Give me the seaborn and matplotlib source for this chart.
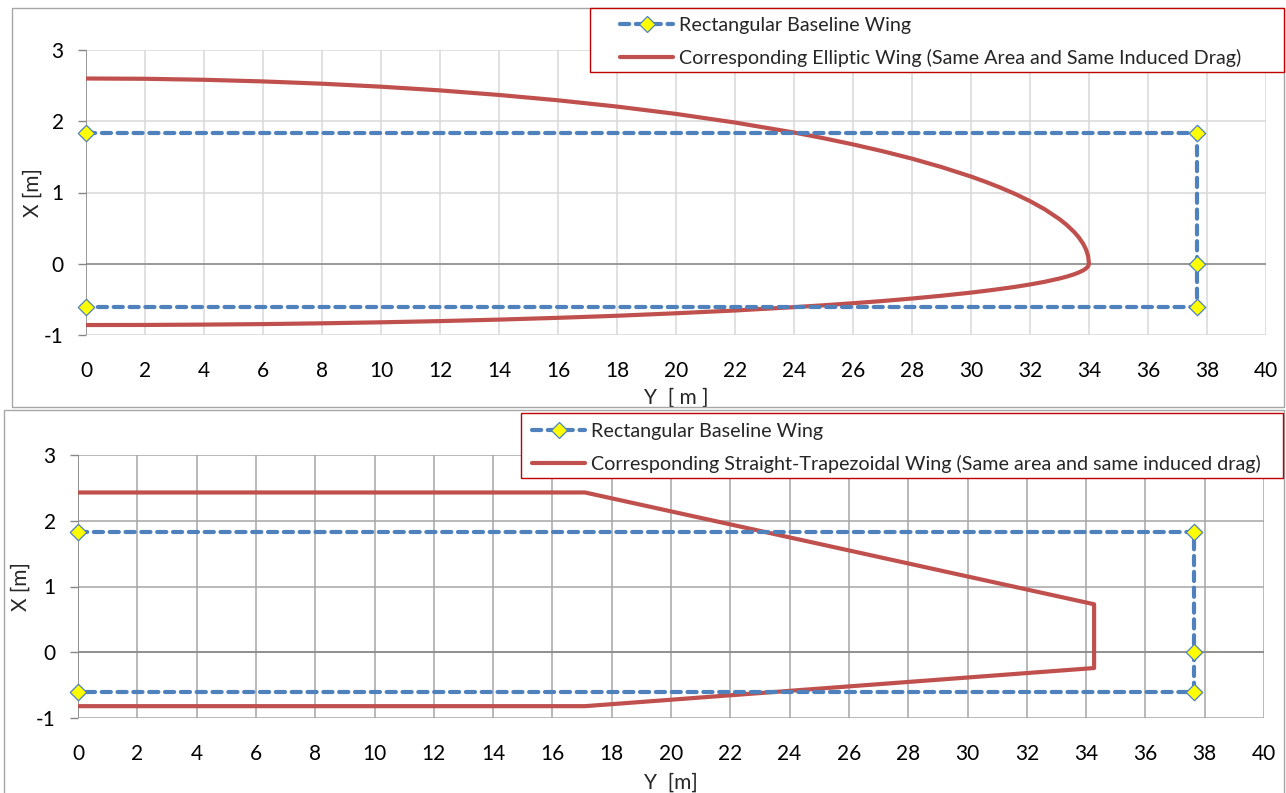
import matplotlib
matplotlib.use("Agg")
import matplotlib.pyplot as plt
import seaborn as sns
from matplotlib.lines import Line2D
from matplotlib.patches import Rectangle

sns.set_theme(style="white")
plt.rcParams['font.family'] = ['Lato', 'DejaVu Sans']
plt.rcParams['axes.unicode_minus'] = False

# ---------------- data ----------------
# Rectangular baseline wing outline (span station Y, chordwise X)
rect_y = [0.0, 37.65, 37.65, 37.65, 0.0]
rect_x = [1.83, 1.83, 0.0, -0.6, -0.6]

# Elliptic wing outline: leading edge out to the tip
ell_le_y = [0, 2, 4, 6, 8, 10, 12, 14, 16, 18, 20, 22, 24, 25, 26, 27, 28, 29,
            30, 30.5, 31, 31.5, 32, 32.5, 33, 33.25, 33.5, 33.65, 33.8, 33.9,
            33.97, 34.0]
ell_le_x = [2.60, 2.596, 2.582, 2.559, 2.527, 2.485, 2.433, 2.369, 2.294, 2.206,
            2.103, 1.982, 1.842, 1.762, 1.675, 1.580, 1.475, 1.357, 1.224, 1.149,
            1.068, 0.979, 0.879, 0.764, 0.626, 0.543, 0.444, 0.372, 0.282, 0.199,
            0.109, 0.0]
# trailing edge from the tip back to the root
ell_te_y = [33.97, 33.9, 33.8, 33.65, 33.5, 33.25, 33, 32.5, 32, 31.5, 31, 30.5,
            30, 29, 28, 27, 26, 25, 24, 22, 20, 18, 16, 14, 12, 10, 8, 6, 4, 2, 0]
ell_te_x = [-0.036, -0.066, -0.093, -0.123, -0.147, -0.180, -0.207, -0.253,
            -0.291, -0.324, -0.353, -0.380, -0.405, -0.449, -0.488, -0.523,
            -0.554, -0.583, -0.609, -0.656, -0.695, -0.730, -0.759, -0.784,
            -0.805, -0.822, -0.836, -0.847, -0.854, -0.859, -0.86]

# Straight-trapezoidal wing outline
trap_y = [0.0, 17.1, 34.27, 34.27, 17.1, 0.0]
trap_x = [2.43, 2.43, 0.73, -0.24, -0.82, -0.82]

x_ticks = list(range(0, 41, 2))
y_ticks = [-1, 0, 1, 2, 3]

rect_label = "Rectangular Baseline Wing"
ell_label = "Corresponding Elliptic Wing (Same Area and Same Induced Drag)"
trap_label = "Corresponding Straight-Trapezoidal Wing (Same area and same induced drag)"

ell_y = ell_le_y + ell_te_y
ell_x = ell_le_x + ell_te_x

# ---------------- style ----------------
BLUE = "#4f81bd"
RED = "#c0504d"
LEG_RED = "#c00000"
FS = 15
LFS = 14.2

W, H = 1286, 793
fig = plt.figure(figsize=(W / 100, H / 100), dpi=100)

def fx(px):
    return px / W

def fy(py):
    return 1 - py / H

def frame(x0, y0, x1, y1, color, lw=1.0, z=1):
    fig.patches.append(Rectangle((fx(x0), fy(y1)), fx(x1) - fx(x0), fy(y0) - fy(y1),
                                 transform=fig.transFigure, facecolor="none",
                                 edgecolor=color, lw=lw, zorder=z))

# outer chart frames
frame(12, 8, 1284, 407, "#a6a6a6")
frame(4, 410, 1284, 800, "#a6a6a6")

ax1 = fig.add_axes([fx(86), fy(335), fx(1266) - fx(86), fy(50) - fy(335)])
ax2 = fig.add_axes([fx(78), fy(718), fx(1264) - fx(78), fy(455) - fy(718)])

def draw_panel(ax, wing_y, wing_x, grid_color, xlabel, ylab_x, xlab_y):
    ax.set_facecolor("white")
    for v in x_ticks:
        ax.axvline(v, color=grid_color, lw=1.1, zorder=0)
    for v in y_ticks:
        ax.axhline(v, color=grid_color, lw=1.1, zorder=0)
    ax.axhline(0, color="#868686", lw=1.1, zorder=0.5)
    ax.axvline(0, color="#868686", lw=1.1, zorder=0.5)
    sns.lineplot(x=wing_y, y=wing_x, sort=False, estimator=None, ax=ax,
                 color=RED, lw=3.0, zorder=3, legend=False)
    ax.lines[-1].set_solid_joinstyle("round")
    sns.lineplot(x=rect_y, y=rect_x, sort=False, estimator=None, ax=ax,
                 color=BLUE, lw=3.0, zorder=4, legend=False,
                 dashes=False)
    ln = ax.lines[-1]
    ln.set_linestyle((0, (2.2, 1.6)))
    ln.set_dash_capstyle("round")
    sns.scatterplot(x=rect_y, y=rect_x, ax=ax, marker="D", s=70, color="#ffff00",
                    edgecolor=BLUE, linewidth=0.9, zorder=5, legend=False,
                    clip_on=False)
    ax.set_xlim(0, 40)
    ax.set_ylim(-1, 3)
    ax.set_xticks(x_ticks)
    ax.set_yticks(y_ticks)
    ax.tick_params(axis="x", length=0, pad=19, labelsize=FS, colors="black")
    ax.tick_params(axis="y", left=True, length=6, width=1, color="#868686",
                   pad=10, labelsize=FS, colors="black")
    for s in ax.spines.values():
        s.set_visible(False)
    ax.set_xlabel(xlabel, fontsize=FS)
    ax.set_ylabel("X [m]", fontsize=FS)
    ax.yaxis.set_label_coords(ylab_x, 0.5)
    ax.xaxis.set_label_coords(0.5, xlab_y)

draw_panel(ax1, ell_y, ell_x, "#d9d9d9", "Y  [ m ]", -0.037, -0.186)
draw_panel(ax2, trap_y, trap_x, "#a6a6a6", "Y  [m]", -0.040, -0.208)

def make_legend(second_label, anchor_px, box):
    x0, y0, x1, y1 = box
    fig.patches.append(Rectangle((fx(x0), fy(y1)), fx(x1) - fx(x0), fy(y0) - fy(y1),
                                 transform=fig.transFigure, facecolor="white",
                                 edgecolor=LEG_RED, lw=1.0, zorder=2))
    h1 = Line2D([0], [0], color=BLUE, lw=3.0, linestyle=(0, (2.2, 1.6)),
                marker="D", markersize=8, markerfacecolor="#ffff00",
                markeredgecolor=BLUE, markeredgewidth=0.9)
    h1.set_dash_capstyle("round")
    h2 = Line2D([0], [0], color=RED, lw=3.0)
    leg = fig.legend([h1, h2], [rect_label, second_label], loc="upper left",
                     bbox_to_anchor=(fx(anchor_px[0]), fy(anchor_px[1])),
                     bbox_transform=fig.transFigure,
                     fontsize=LFS, frameon=False, handlelength=2.7,
                     handletextpad=0.3, labelspacing=0.75, borderpad=0,
                     borderaxespad=0)
    leg.set_zorder(3)
    return leg

make_legend(ell_label, (620, 17), (590, 8, 1284, 72))
make_legend(trap_label, (532, 423), (521, 413, 1283, 478))

fig.savefig("out.png", dpi=100, facecolor="white")
